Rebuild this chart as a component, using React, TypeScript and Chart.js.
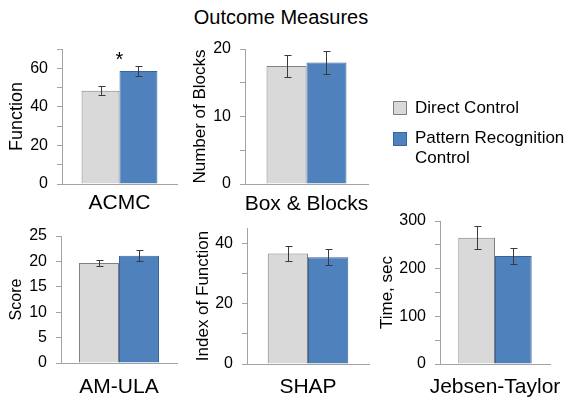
import React, { useEffect, useRef } from "react";
import { Chart, registerables } from "chart.js";

Chart.register(...registerables);

const FONT = '"Liberation Sans", Arial, Helvetica, sans-serif';
const AXIS = "#a3a3a3";

// ---- data ----
const seriesNames = ["Direct Control", "Pattern Recognition Control"];
const seriesFill = ["#d9d9d9", "#4f81bd"];
const seriesBorder = ["#7f7f7f", "#38649a"];

const measures = ["ACMC", "Box & Blocks", "AM-ULA", "SHAP", "Jebsen-Taylor"];
const yTitles = ["Function", "Number of Blocks", "Score", "Index of Function", "Time, sec"];
const directValues = [48.3, 17.5, 19.7, 36.6, 265];
const directErrors = [2.4, 1.6, 0.6, 2.4, 24];
const patternValues = [58.6, 18.0, 21.1, 35.3, 226.5];
const patternErrors = [2.6, 1.65, 1.1, 2.6, 17.5];
const significance = ["*", "", "", "", ""];
const yMax = [70, 20, 25, 45, 300];
const tickValues = [
  [0, 10, 20, 30, 40, 50, 60, 70],
  [0, 5, 10, 15, 20],
  [0, 5, 10, 15, 20, 25],
  [0, 10, 20, 30, 40],
  [0, 50, 100, 150, 200, 250, 300],
];
const labelledTicks = [
  [0, 20, 40, 60],
  [0, 10, 20],
  [0, 5, 10, 15, 20, 25],
  [0, 20, 40],
  [0, 100, 200, 300],
];

// ---- layout (plot-area placement of each panel) ----
const panelLayout = [
  { left: 62, right: 177, top: 49, bottom: 184, titleX: 17, titleSize: 18, catPad: 9, catPct: 0.66 },
  { left: 245, right: 368, top: 49, bottom: 184, titleX: 200.5, titleSize: 17, catPad: 10, catPct: 0.65 },
  { left: 61, right: 177, top: 236, bottom: 363, titleX: 17, titleSize: 16, catPad: 14, catPct: 0.69 },
  { left: 247, right: 369, top: 228, bottom: 364, titleX: 203.5, titleSize: 17, catPad: 13, catPct: 0.66 },
  { left: 440, right: 550, top: 221, bottom: 364, titleX: 387.5, titleSize: 17, catPad: 13, catPct: 0.667 },
];

const errorBarPlugin = {
  id: "errorBars",
  afterDatasetsDraw(chart: any, _args: any, opts: any) {
    const ctx = chart.ctx;
    const yScale = chart.scales.y;
    let highest = Infinity;
    ctx.save();
    ctx.strokeStyle = "#3a3a3a";
    ctx.lineWidth = 1;
    chart.data.datasets.forEach((ds: any, di: number) => {
      const meta = chart.getDatasetMeta(di);
      meta.data.forEach((el: any, k: number) => {
        const v = ds.data[k];
        const e = ds.errors[k];
        const x = Math.round(el.x) + 0.5;
        const yT = Math.round(yScale.getPixelForValue(v + e)) + 0.5;
        const yB = Math.round(yScale.getPixelForValue(v - e)) + 0.5;
        highest = Math.min(highest, yT);
        ctx.beginPath();
        ctx.moveTo(x, yT);
        ctx.lineTo(x, yB);
        ctx.moveTo(x - 3, yT);
        ctx.lineTo(x + 4, yT);
        ctx.moveTo(x - 3, yB);
        ctx.lineTo(x + 4, yB);
        ctx.stroke();
      });
    });
    const centerX = chart.scales.x.getPixelForValue(0);
    if (opts && opts.mark) {
      ctx.fillStyle = "#000";
      ctx.font = `20px ${FONT}`;
      ctx.textAlign = "center";
      ctx.textBaseline = "alphabetic";
      ctx.fillText(opts.mark, centerX, highest - 1);
    }
    ctx.restore();
  },
};

function Panel({ i }: { i: number }) {
  const ref = useRef<HTMLCanvasElement>(null);
  const L = panelLayout[i];
  const padTop = 20;
  const padRight = 70;
  const xH = 45;
  const canvasLeft = L.titleX - L.titleSize / 2;
  const canvasTop = L.top - padTop;
  const w = L.right + padRight - canvasLeft;
  const h = L.bottom + xH - canvasTop;
  const yW = L.left - canvasLeft;

  useEffect(() => {
    const labelled = labelledTicks[i];
    const chart = new Chart(ref.current as HTMLCanvasElement, {
      type: "bar",
      data: {
        labels: [measures[i]],
        datasets: [
          {
            label: seriesNames[0],
            data: [directValues[i]],
            backgroundColor: seriesFill[0],
            borderColor: seriesBorder[0],
            borderWidth: 1,
            errors: [directErrors[i]],
          } as any,
          {
            label: seriesNames[1],
            data: [patternValues[i]],
            backgroundColor: seriesFill[1],
            borderColor: seriesBorder[1],
            borderWidth: 1,
            errors: [patternErrors[i]],
          } as any,
        ],
      },
      options: {
        responsive: false,
        animation: false,
        devicePixelRatio: 1,
        layout: { padding: { left: 0, top: padTop, right: padRight, bottom: 0 } },
        datasets: { bar: { barPercentage: 1, categoryPercentage: L.catPct } },
        plugins: {
          legend: { display: false },
          tooltip: { enabled: false },
          title: { display: false },
          errorBars: { mark: significance[i] },
        } as any,
        scales: {
          x: {
            grid: { display: false, drawTicks: false },
            border: { display: true, color: AXIS, width: 1 },
            ticks: {
              font: { family: FONT, size: 21, lineHeight: 1 },
              color: "#000",
              padding: L.catPad,
              maxRotation: 0,
              autoSkip: false,
            },
            afterFit: (s: any) => {
              s.height = xH;
            },
          },
          y: {
            min: 0,
            max: yMax[i],
            afterBuildTicks: (s: any) => {
              s.ticks = tickValues[i].map((v) => ({ value: v }));
            },
            ticks: {
              autoSkip: false,
              callback: (v: any) => (labelled.includes(Number(v)) ? String(v) : ""),
              font: { family: FONT, size: 16 },
              color: "#000",
              padding: 9,
            },
            grid: { drawOnChartArea: false, color: AXIS, tickLength: 5, drawTicks: true },
            border: { display: true, color: AXIS, width: 1 },
            title: {
              display: true,
              text: yTitles[i],
              font: { family: FONT, size: L.titleSize, lineHeight: 1 },
              color: "#000",
              padding: 0,
            },
            afterFit: (s: any) => {
              s.width = yW;
            },
          },
        },
      } as any,
      plugins: [errorBarPlugin],
    });
    return () => chart.destroy();
  }, [i]);

  return (
    <canvas
      ref={ref}
      width={w}
      height={h}
      style={{ position: "absolute", left: canvasLeft, top: canvasTop, width: w, height: h }}
    />
  );
}

export default function App() {
  return (
    <div
      style={{
        position: "fixed",
        left: 0,
        top: 0,
        width: 573,
        height: 402,
        overflow: "hidden",
        background: "#fff",
        fontFamily: FONT,
        color: "#000",
      }}
    >
      <div
        style={{
          position: "absolute",
          left: 0,
          top: 7,
          width: 562,
          textAlign: "center",
          fontSize: 20,
          lineHeight: "20px",
        }}
      >
        Outcome Measures
      </div>
      {measures.map((_, i) => (
        <Panel key={i} i={i} />
      ))}
      {seriesNames.map((name, k) => (
        <React.Fragment key={name}>
          <div
            style={{
              position: "absolute",
              left: 393,
              top: k === 0 ? 101 : 132,
              width: 12,
              height: 12,
              background: seriesFill[k],
              border: `1px solid ${seriesBorder[k]}`,
            }}
          />
          <div
            style={{
              position: "absolute",
              left: 415,
              top: k === 0 ? 98 : 128,
              width: 155,
              fontSize: 17,
              lineHeight: "20px",
            }}
          >
            {name}
          </div>
        </React.Fragment>
      ))}
    </div>
  );
}
